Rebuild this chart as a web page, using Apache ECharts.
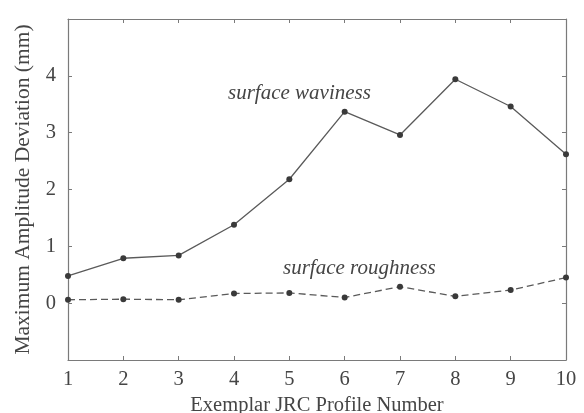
<!DOCTYPE html>
<html>
<head>
<meta charset="utf-8">
<style>html,body{margin:0;padding:0;background:#fff;}#c{width:584px;height:413px;}</style>
<script src="https://cdn.jsdelivr.net/npm/echarts@6/dist/echarts.min.js"></script>
</head>
<body>
<div id="c"></div>
<script>
var profiles = [1, 2, 3, 4, 5, 6, 7, 8, 9, 10];
var waviness = [0.48, 0.79, 0.84, 1.38, 2.18, 3.37, 2.96, 3.94, 3.46, 2.62];
var roughness = [0.06, 0.07, 0.06, 0.17, 0.18, 0.10, 0.29, 0.12, 0.23, 0.45];
var yTickLabels = ['0', '1', '2', '3', '4'];
var xTitle = 'Exemplar JRC Profile Number';
var yTitle = 'Maximum Amplitude Deviation (mm)';

var font = '"Liberation Serif", "DejaVu Serif", serif';
var textColor = '#454545';
var frameColor = '#7a7a7a';

function pairs(xs, ys) { return xs.map(function (x, i) { return [x, ys[i]]; }); }

var chart = echarts.init(document.getElementById('c'), null, {renderer: 'canvas'});
var axisCommon = {
  axisLine: {show: true, onZero: false, lineStyle: {color: frameColor, width: 1.2}},
  axisTick: {show: true, inside: true, length: 4, lineStyle: {color: frameColor}},
  splitLine: {show: false}
};
chart.setOption({
  backgroundColor: '#fff',
  animation: false,
  grid: {left: 68, right: 18, top: 19, bottom: 53, containLabel: false, outerBoundsMode: 'none'},
  xAxis: [
    Object.assign({type: 'value', min: 1, max: 10, interval: 1, position: 'bottom',
      name: xTitle, nameLocation: 'middle', nameGap: 32,
      nameTextStyle: {fontFamily: font, fontSize: 20.5, color: textColor},
      axisLabel: {fontFamily: font, fontSize: 20.5, color: textColor, margin: 9}}, axisCommon),
    Object.assign({type: 'value', min: 1, max: 10, interval: 1, position: 'top',
      axisLabel: {show: false}}, axisCommon)
  ],
  yAxis: [
    Object.assign({type: 'value', min: -1, max: 5, interval: 1, position: 'left',
      name: yTitle, nameLocation: 'middle', nameGap: 28,
      nameTextStyle: {fontFamily: font, fontSize: 21.5, color: textColor},
      axisLabel: {fontFamily: font, fontSize: 20.5, color: textColor, margin: 12,
        formatter: function (v) { var i = yTickLabels.indexOf(String(v)); return i >= 0 ? yTickLabels[i] : ''; }}}, axisCommon, {
      axisTick: {show: true, inside: true, length: 4, lineStyle: {color: frameColor},
        customValues: [0, 1, 2, 3, 4]}}),
    Object.assign({type: 'value', min: -1, max: 5, interval: 1, position: 'right',
      axisLabel: {show: false}}, axisCommon, {
      axisTick: {show: true, inside: true, length: 4, lineStyle: {color: frameColor},
        customValues: [0, 1, 2, 3, 4]}})
  ],
  series: [
    {type: 'line', data: pairs(profiles, waviness), symbol: 'circle', symbolSize: 6,
      lineStyle: {color: '#5a5a5a', width: 1.3}, itemStyle: {color: '#3a3a3a'}},
    {type: 'line', data: pairs(profiles, roughness), symbol: 'circle', symbolSize: 6,
      lineStyle: {color: '#5a5a5a', width: 1.3, type: [7, 4]}, itemStyle: {color: '#3a3a3a'}}
  ],
  graphic: [
    {type: 'text', x: 228, y: 93, style: {text: 'surface waviness', font: 'italic 21px ' + font, fill: textColor, align: 'left', verticalAlign: 'middle'}},
    {type: 'text', x: 283, y: 268, style: {text: 'surface roughness', font: 'italic 21px ' + font, fill: textColor, align: 'left', verticalAlign: 'middle'}}
  ]
});
</script>
</body>
</html>
